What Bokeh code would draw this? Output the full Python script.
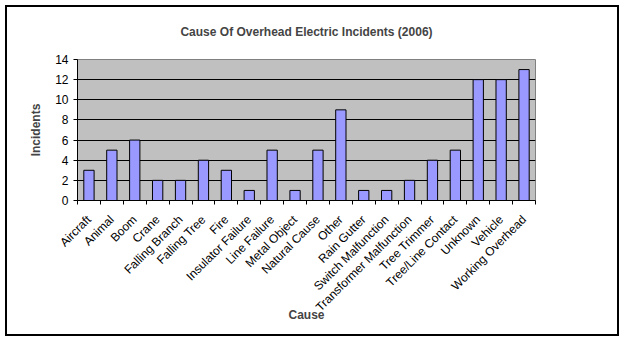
from bokeh.plotting import figure
from bokeh.models import Range1d, FixedTicker, ColumnDataSource
from bokeh.embed import file_html
from bokeh.resources import INLINE
import math

categories = ["Aircraft", "Animal", "Boom", "Crane", "Falling Branch", "Falling Tree",
              "Fire", "Insulator Failure", "Line Failure", "Metal Object", "Natural Cause",
              "Other", "Rain Gutter", "Switch Malfunction", "Transformer Malfunction",
              "Tree Trimmer", "Tree/Line Contact", "Unknown", "Vehicle", "Working Overhead"]
incidents = [3, 5, 6, 2, 2, 4, 3, 1, 5, 1, 5, 9, 1, 1, 2, 4, 5, 12, 12, 13]
y_ticks = [0, 2, 4, 6, 8, 10, 12, 14]

n = len(categories)
centers = [i + 0.5 for i in range(n)]
bounds = list(range(n + 1))

FONT = "Liberation Sans"

p = figure(width=624, height=341, output_backend="svg", toolbar_location=None,
           x_range=Range1d(0, n), y_range=Range1d(0, 14),
           min_border_left=77, min_border_right=89, min_border_top=59, min_border_bottom=141)
p.styles = {"outline": "2px solid black", "outline-offset": "-7px"}

p.title.text = "Cause Of Overhead Electric Incidents (2006)"
p.title.align = "center"
p.title.vertical_align = "top"
p.title.text_font = FONT
p.title.text_font_size = "12px"
p.title.text_font_style = "bold"
p.title.offset = 0
p.title.standoff = 37

p.background_fill_color = "#C0C0C0"
p.border_fill_color = None
p.outline_line_color = "#808080"
p.outline_line_width = 1

src = ColumnDataSource(dict(x=centers, top=incidents))
p.vbar(x="x", top="top", width=0.45, bottom=0, source=src,
       fill_color="#9999FF", line_color="black", line_width=1)

# x axis
xa = p.xaxis[0]
xa.ticker = FixedTicker(ticks=centers, minor_ticks=bounds)
xa.major_label_overrides = {c: name for c, name in zip(centers, categories)}
xa.major_label_orientation = math.pi / 4
xa.major_tick_line_color = None
xa.major_tick_out = 0
xa.major_tick_in = 0
xa.minor_tick_line_color = "black"
xa.minor_tick_out = 4
xa.minor_tick_in = 0
xa.major_label_standoff = 13
xa.major_label_text_font = FONT
xa.major_label_text_font_size = "12px"
xa.major_label_text_color = "black"
xa.axis_line_color = "black"
xa.axis_label = "Cause"
xa.axis_label_text_font = FONT
xa.axis_label_text_font_size = "12px"
xa.axis_label_text_font_style = "bold"
xa.axis_label_standoff = -14

# y axis
ya = p.yaxis[0]
ya.ticker = FixedTicker(ticks=y_ticks)
ya.major_tick_out = 4
ya.major_tick_in = 0
ya.minor_tick_line_color = None
ya.major_tick_line_color = "black"
ya.major_label_standoff = 5
ya.major_label_text_font = FONT
ya.major_label_text_font_size = "12px"
ya.major_label_text_color = "black"
ya.axis_line_color = "black"
ya.axis_label = "Incidents"
ya.axis_label_text_font = FONT
ya.axis_label_text_font_size = "12px"
ya.axis_label_text_font_style = "bold"
ya.axis_label_standoff = 9

p.xgrid.visible = False
p.ygrid.ticker = FixedTicker(ticks=y_ticks)
p.ygrid.grid_line_color = "black"
p.ygrid.grid_line_width = 1

open("out.html", "w").write(file_html(p, INLINE))
